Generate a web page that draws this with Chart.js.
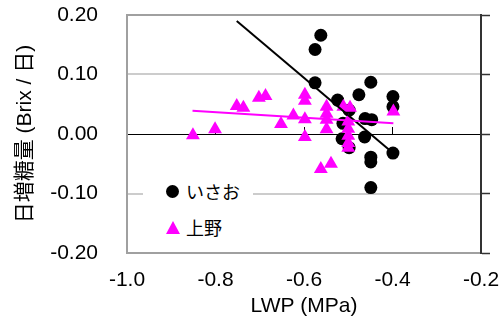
<!DOCTYPE html>
<html>
<head>
<meta charset="utf-8">
<script src="https://cdn.jsdelivr.net/npm/chart.js@4/dist/chart.umd.min.js"></script>
<style>
  body { margin: 0; background: #fff; }
  #wrap { position: relative; width: 502px; height: 336px; }
  #legend { position: absolute; left: 143px; top: 170px; width: 110px; height: 75px; background: #fff;
            font: 18px 'Noto Sans CJK JP', sans-serif; color: #000; }
  .row { position: absolute; left: 43px; height: 22px; line-height: 22px; white-space: nowrap; }
  .dot { position: absolute; left: 23px; width: 13px; height: 13px; border-radius: 50%; background: #000; }
  .tri { position: absolute; left: 23px; width: 0; height: 0; border-left: 7px solid transparent;
         border-right: 7px solid transparent; border-bottom: 13px solid #ff00ff; }
</style>
</head>
<body>
<div id="wrap">
  <canvas id="myChart" width="502" height="336"></canvas>
  <div id="legend">
    <div class="dot" style="top:15px"></div><div class="row" style="top:10px">いさお</div>
    <div class="tri" style="top:51px"></div><div class="row" style="top:46px">上野</div>
  </div>
</div>
<script>
// いさお (circles)
const isaoX = [-0.562, -0.575, -0.575, -0.449, -0.476, -0.524, -0.399, -0.399, -0.498, -0.462,
               -0.447, -0.514, -0.498, -0.463, -0.399, -0.449, -0.449, -0.449, -0.512];
const isaoY = [0.166, 0.142, 0.086, 0.087, 0.066, 0.057, 0.063, 0.046, 0.040, 0.026,
               0.024, -0.008, -0.023, -0.005, -0.032, -0.039, -0.047, -0.090, 0.018];
// 上野 (triangles)
const uenoX = [-0.851, -0.801, -0.752, -0.737, -0.702, -0.687, -0.652, -0.624, -0.598, -0.598,
               -0.598, -0.598, -0.562, -0.539, -0.549, -0.549, -0.549, -0.549, -0.511, -0.496,
               -0.500, -0.500, -0.500, -0.500, -0.500, -0.398];
const uenoY = [-0.002, 0.008, 0.047, 0.044, 0.061, 0.064, 0.017, 0.031, 0.066, 0.056,
               0.025, -0.005, -0.059, -0.050, 0.046, 0.034, 0.024, 0.008, 0.046, 0.044,
               0.021, 0.009, -0.003, -0.015, -0.023, 0.038];
// trend lines (end points)
const isaoFitX = [-0.752, -0.399];
const isaoFitY = [0.190, -0.032];
const uenoFitX = [-0.852, -0.398];
const uenoFitY = [0.039, 0.018];

const xTicks = [-1.0, -0.8, -0.6, -0.4, -0.2];
const yTicks = [-0.2, -0.1, 0, 0.1, 0.2];

function pts(xs, ys) { return xs.map((x, i) => ({x: x, y: ys[i]})); }

const fam = "'Liberation Sans', 'Noto Sans CJK JP', Arial, sans-serif";

const config = {
  type: 'scatter',
  data: {
    datasets: [{
      label: 'いさお',
      data: pts(isaoX, isaoY),
      pointStyle: 'circle',
      pointRadius: 6.5,
      backgroundColor: '#000',
      borderColor: '#000',
      borderWidth: 0,
      order: 4
    }, {
      label: '上野',
      data: pts(uenoX, uenoY),
      pointStyle: 'triangle',
      pointRadius: 8,
      backgroundColor: '#ff00ff',
      borderColor: '#ff00ff',
      borderWidth: 0,
      order: 3
    }, {
      label: 'fit1',
      data: pts(isaoFitX, isaoFitY),
      showLine: true,
      pointRadius: 0,
      borderColor: '#000',
      borderWidth: 2,
      order: 2
    }, {
      label: 'fit2',
      data: pts(uenoFitX, uenoFitY),
      showLine: true,
      pointRadius: 0,
      borderColor: '#ff00ff',
      borderWidth: 2,
      order: 1
    }]
  },
  options: {
    responsive: false,
    animation: false,
    devicePixelRatio: 1,
    layout: { padding: { top: 15, right: 12, left: 0, bottom: 0 } },
    plugins: { legend: { display: false }, tooltip: { enabled: false } },
    scales: {
      x: {
        type: 'linear', position: 'bottom', min: -1, max: -0.2,
        afterBuildTicks: s => { s.ticks = xTicks.map(v => ({value: v})); },
        ticks: { padding: 7, color: '#000', font: { family: fam, size: 21 },
                 callback: v => v.toFixed(1) },
        grid: { display: false },
        border: { display: false },
        title: { display: true, text: 'LWP (MPa)', color: '#000', font: { family: fam, size: 21 },
                 padding: { top: 0, bottom: 17 } },
        afterFit: s => { s.height = 83; s.paddingLeft = 0; s.paddingRight = 0; }
      },
      x2: {
        type: 'linear', position: { y: 0 }, min: -1, max: -0.2,
        afterBuildTicks: s => { s.ticks = xTicks.map(v => ({value: v})); },
        ticks: { display: false },
        grid: { drawOnChartArea: false, drawTicks: true, tickLength: -7, tickColor: '#000', tickWidth: 1 },
        border: { display: false },
        afterFit: s => { s.height = 0; s.paddingLeft = 0; s.paddingRight = 0; }
      },
      y: {
        type: 'linear', position: 'left', min: -0.2, max: 0.2,
        afterBuildTicks: s => { s.ticks = yTicks.map(v => ({value: v})); },
        ticks: { padding: 29, color: '#000', font: { family: fam, size: 21 },
                 callback: v => (Math.abs(v) < 1e-9 ? 0 : v).toFixed(2) },
        grid: {
          drawTicks: false,
          color: c => {
            const v = c.tick ? c.tick.value : 1;
            if (Math.abs(v) < 1e-9) return '#000';
            if (Math.abs(Math.abs(v) - 0.2) < 1e-9) return '#a0a0a0';
            return '#cccccc';
          },
          lineWidth: c => (c.tick && Math.abs(c.tick.value) < 1e-9) ? 1 : 2
        },
        border: { color: '#a0a0a0', width: 2 },
        title: { display: true, text: '日増糖量 (Brix / 日)', color: '#000',
                 font: { family: fam, size: 21 }, padding: { top: 13, bottom: 0 } },
        afterFit: s => { s.width = 127; s.paddingTop = 0; s.paddingBottom = 0; }
      },
      y2: {
        type: 'linear', position: 'right', min: -0.2, max: 0.2,
        afterBuildTicks: s => { s.ticks = yTicks.map(v => ({value: v})); },
        ticks: { display: false },
        grid: { drawOnChartArea: false, drawTicks: true, tickLength: 9, tickColor: '#333', tickWidth: 1.5 },
        border: { color: '#333', width: 2 }
      }
    }
  }
};

var myChart = new Chart(document.getElementById('myChart'), config);
</script>
</body>
</html>
